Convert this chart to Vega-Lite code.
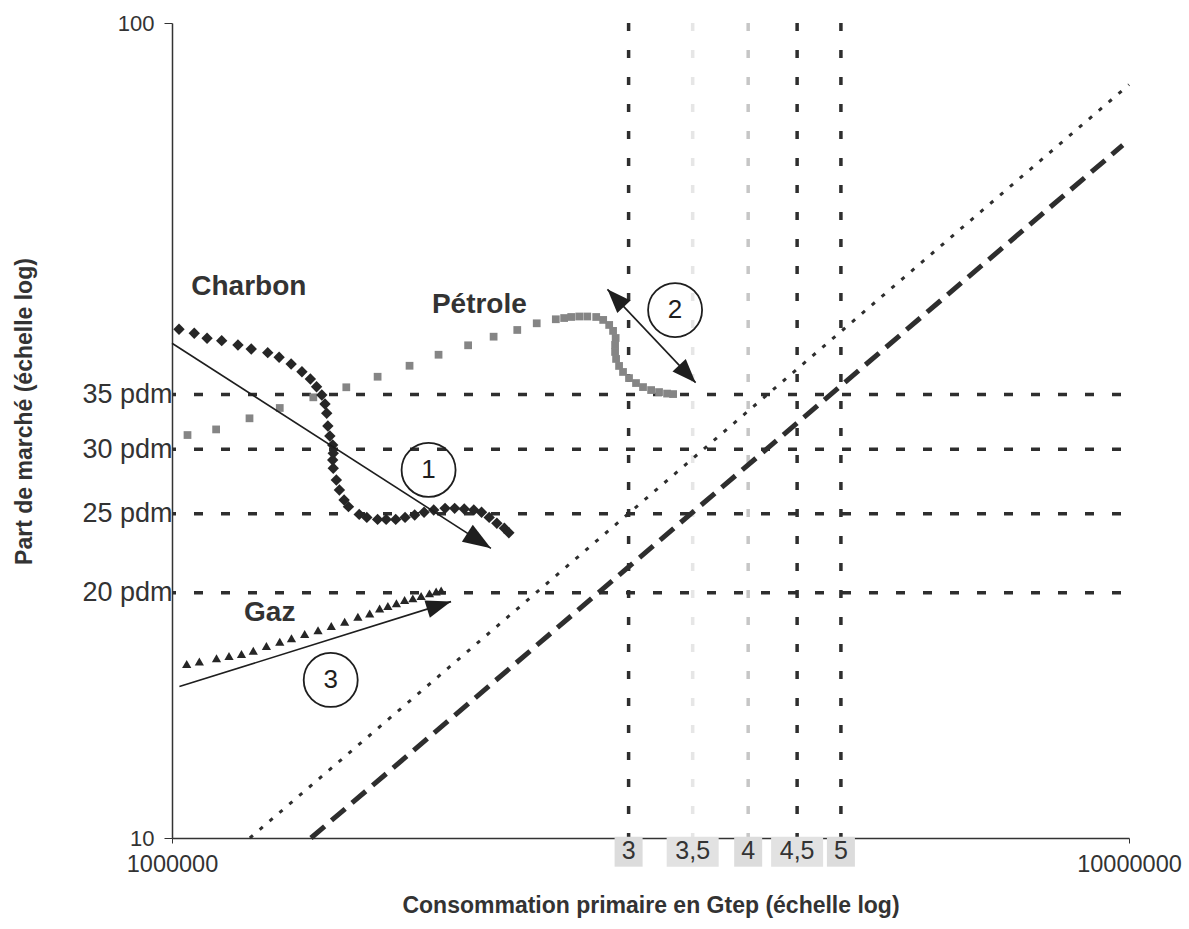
{
 "$schema": "https://vega.github.io/schema/vega-lite/v6.json",
 "width": 957,
 "height": 815,
 "autosize": {"type": "none"},
 "padding": {"left": 172, "top": 23, "right": 60, "bottom": 91},
 "background": "white",
 "config": {"view": {"stroke": null}, "font": "Liberation Sans", "axis": {"grid": false}},
 "datasets": {
  "charbon": [
   {"x":1017000,"y":42.09},{"x":1055000,"y":41.62},{"x":1088000,"y":41.03},{"x":1127000,"y":40.76},{"x":1172000,"y":40.27},{"x":1210000,"y":39.81},{"x":1259000,"y":39.40},{"x":1294000,"y":38.89},{"x":1332000,"y":38.16},{"x":1367000,"y":37.34},{"x":1395000,"y":36.58},{"x":1416000,"y":35.79},{"x":1434000,"y":34.96},{"x":1445000,"y":34.08},{"x":1451000,"y":33.20},{"x":1455000,"y":32.03},{"x":1462000,"y":31.14},{"x":1472000,"y":30.35},{"x":1474000,"y":29.65},{"x":1472000,"y":29.09},{"x":1474000,"y":28.42},{"x":1485000,"y":27.50},{"x":1496000,"y":26.73},{"x":1513000,"y":25.98},{"x":1529000,"y":25.50},{"x":1569000,"y":24.95},{"x":1598000,"y":24.74},{"x":1640000,"y":24.60},{"x":1674000,"y":24.60},{"x":1713000,"y":24.60},{"x":1752000,"y":24.74},{"x":1793000,"y":24.91},{"x":1834000,"y":25.10},{"x":1877000,"y":25.26},{"x":1929000,"y":25.38},{"x":1974000,"y":25.38},{"x":2020000,"y":25.33},{"x":2067000,"y":25.26},{"x":2106000,"y":25.10},{"x":2145000,"y":24.74},{"x":2185000,"y":24.33},{"x":2225000,"y":23.99},{"x":2249000,"y":23.69}
  ],
  "petrole": [
   {"x":1038000,"y":31.22},{"x":1112000,"y":31.72},{"x":1205000,"y":32.73},{"x":1296000,"y":33.70},{"x":1405000,"y":34.73},{"x":1521000,"y":35.73},{"x":1640000,"y":36.81},{"x":1771000,"y":37.97},{"x":1899000,"y":39.17},{"x":2039000,"y":40.23},{"x":2168000,"y":41.22},{"x":2295000,"y":42.01},{"x":2405000,"y":42.81},{"x":2518000,"y":43.30},{"x":2569000,"y":43.45},{"x":2613000,"y":43.58},{"x":2664000,"y":43.64},{"x":2716000,"y":43.64},{"x":2775000,"y":43.58},{"x":2822000,"y":43.22},{"x":2863000,"y":42.61},{"x":2890000,"y":41.90},{"x":2908000,"y":41.07},{"x":2904000,"y":40.27},{"x":2904000,"y":39.48},{"x":2911000,"y":38.71},{"x":2932000,"y":37.95},{"x":2960000,"y":37.31},{"x":3003000,"y":36.67},{"x":3054000,"y":36.16},{"x":3106000,"y":35.75},{"x":3167000,"y":35.45},{"x":3228000,"y":35.25},{"x":3291000,"y":35.10},{"x":3339000,"y":35.05}
  ],
  "gaz": [
   {"x":1036000,"y":16.35},{"x":1068000,"y":16.46},{"x":1113000,"y":16.62},{"x":1147000,"y":16.72},{"x":1182000,"y":16.82},{"x":1216000,"y":16.97},{"x":1255000,"y":17.20},{"x":1296000,"y":17.41},{"x":1333000,"y":17.58},{"x":1376000,"y":17.79},{"x":1421000,"y":17.99},{"x":1467000,"y":18.20},{"x":1515000,"y":18.42},{"x":1564000,"y":18.69},{"x":1609000,"y":18.86},{"x":1648000,"y":19.13},{"x":1681000,"y":19.26},{"x":1716000,"y":19.41},{"x":1750000,"y":19.59},{"x":1785000,"y":19.68},{"x":1821000,"y":19.81},{"x":1858000,"y":19.96},{"x":1888000,"y":20.06},{"x":1911000,"y":20.12}
  ],
  "scen": [
   {"s":"pointillé","x":1206000,"y":10,"x2":10000000,"y2":84},
   {"s":"tirets","x":1397000,"y":10,"x2":9850000,"y2":70.8}
  ],
  "pdm": [{"y":35},{"y":30},{"y":25},{"y":20}],
  "gtep": [{"v":3000000,"label":"3"},{"v":3500000,"label":"3,5"},{"v":4000000,"label":"4"},{"v":4500000,"label":"4,5"},{"v":5000000,"label":"5"}],
  "arrows": [
   {"id":1,"x":1000000,"y":40.46,"x2":2154000,"y2":22.67},
   {"id":2,"x":2851000,"y":47.12,"x2":3525000,"y2":36.20},
   {"id":3,"x":1018000,"y":15.34,"x2":1957000,"y2":19.50}
  ],
  "circles": [{"n":"1","x":1854000,"y":28.29},{"n":"2","x":3355000,"y":44.44},{"n":"3","x":1465000,"y":15.63}],
  "names": [{"name":"Charbon","x":1203000,"y":47.43},{"name":"Pétrole","x":2095000,"y":45.08},{"name":"Gaz","x":1265000,"y":18.88}]
 },
 "layer": [
  {
   "data": {"name": "gtep"},
   "transform": [{"filter": "datum.label == '3' || datum.label == '4,5' || datum.label == '5'"}],
   "mark": {"type": "rule", "color": "#2e2e2e", "strokeWidth": 3.5, "strokeDash": [8, 19]},
   "encoding": {
    "x": {"field": "v", "type": "quantitative", "scale": {"type": "log", "domain": [1000000, 10000000], "nice": false},
     "axis": {"values": [1000000, 10000000], "labelExpr": "datum.value < 2000000 ? '1000000' : '10000000'", "labelFlush": false, "labelOverlap": false, "labelBound": false,
      "labelFontSize": 23.5, "labelColor": "#333", "labelPadding": 9, "tickSize": 5, "tickColor": "#333", "domainColor": "#333", "domainWidth": 1.5,
      "title": "Consommation primaire en Gtep (échelle log)", "titleFontSize": 23, "titleFontWeight": "bold", "titleColor": "#333", "titlePadding": 19}}
   }
  },
  {
   "data": {"name": "pdm"},
   "mark": {"type": "rule", "color": "#2e2e2e", "strokeWidth": 3.5, "strokeDash": [9, 18], "strokeDashOffset": -8},
   "encoding": {
    "y": {"field": "y", "type": "quantitative", "scale": {"type": "log", "domain": [10, 100], "nice": false},
     "axis": {"values": [10, 20, 25, 30, 35, 100],
      "labelExpr": "datum.value == 100 || datum.value == 10 ? '' + datum.value : datum.value + ' pdm'",
      "labelOverlap": false, "labelBound": false, "labelColor": "#333",
      "labelFontSize": {"condition": {"test": "datum.value == 10 || datum.value == 100", "value": 22}, "value": 27},
      "labelPadding": {"condition": {"test": "datum.value == 10 || datum.value == 100", "value": 10}, "value": -8},
      "tickSize": 8,
      "tickColor": {"condition": {"test": "datum.value == 10 || datum.value == 100", "value": "#333"}, "value": "transparent"},
      "domainColor": "#333", "domainWidth": 1.5,
      "title": "Part de marché (échelle log)", "titleFontSize": 23, "titleFontWeight": "bold", "titleColor": "#333", "titleX": -136, "titleY": 388}}
   }
  },
  {
   "data": {"name": "gtep"},
   "transform": [{"filter": "datum.label == '4'"}],
   "mark": {"type": "rule", "color": "#c6c6c6", "strokeWidth": 3.5, "strokeDash": [8, 19]},
   "encoding": {"x": {"field": "v", "type": "quantitative", "scale": {"type": "log", "domain": [1000000, 10000000], "nice": false}}}
  },
  {
   "data": {"name": "gtep"},
   "transform": [{"filter": "datum.label == '3,5'"}],
   "mark": {"type": "rule", "color": "#e6e6e6", "strokeWidth": 3.5, "strokeDash": [8, 19]},
   "encoding": {"x": {"field": "v", "type": "quantitative", "scale": {"type": "log", "domain": [1000000, 10000000], "nice": false}}}
  },
  {
   "mark": {"type": "rule", "color": "#444", "strokeWidth": 1.5},
   "encoding": {"y": {"datum": 100, "type": "quantitative", "scale": {"type": "log", "domain": [10, 100], "nice": false}}}
  },
  {
   "mark": {"type": "rule", "color": "#777", "strokeWidth": 1, "strokeDash": [1, 2]},
   "encoding": {"x": {"datum": 10000000, "type": "quantitative", "scale": {"type": "log", "domain": [1000000, 10000000], "nice": false}}}
  },
  {
   "data": {"name": "scen"},
   "transform": [{"filter": "datum.s == 'pointillé'"}],
   "mark": {"type": "rule", "color": "#2e2e2e", "strokeWidth": 3, "strokeDash": [4, 9]},
   "encoding": {
    "x": {"field": "x", "type": "quantitative", "scale": {"type": "log", "domain": [1000000, 10000000], "nice": false}},
    "y": {"field": "y", "type": "quantitative", "scale": {"type": "log", "domain": [10, 100], "nice": false}},
    "x2": {"field": "x2"}, "y2": {"field": "y2"}
   }
  },
  {
   "data": {"name": "scen"},
   "transform": [{"filter": "datum.s == 'tirets'"}],
   "mark": {"type": "rule", "color": "#2e2e2e", "strokeWidth": 5, "strokeDash": [18, 9]},
   "encoding": {
    "x": {"field": "x", "type": "quantitative", "scale": {"type": "log", "domain": [1000000, 10000000], "nice": false}},
    "y": {"field": "y", "type": "quantitative", "scale": {"type": "log", "domain": [10, 100], "nice": false}},
    "x2": {"field": "x2"}, "y2": {"field": "y2"}
   }
  },
  {
   "data": {"name": "petrole"},
   "mark": {"type": "point", "shape": "square", "filled": true, "color": "#858585", "size": 60, "opacity": 1},
   "encoding": {
    "x": {"field": "x", "type": "quantitative", "scale": {"type": "log", "domain": [1000000, 10000000], "nice": false}},
    "y": {"field": "y", "type": "quantitative", "scale": {"type": "log", "domain": [10, 100], "nice": false}}
   }
  },
  {
   "data": {"name": "charbon"},
   "mark": {"type": "point", "shape": "diamond", "filled": true, "color": "#262626", "size": 130, "opacity": 1},
   "encoding": {
    "x": {"field": "x", "type": "quantitative", "scale": {"type": "log", "domain": [1000000, 10000000], "nice": false}},
    "y": {"field": "y", "type": "quantitative", "scale": {"type": "log", "domain": [10, 100], "nice": false}}
   }
  },
  {
   "data": {"name": "gaz"},
   "mark": {"type": "point", "shape": "triangle-up", "filled": true, "color": "#262626", "size": 85, "opacity": 1},
   "encoding": {
    "x": {"field": "x", "type": "quantitative", "scale": {"type": "log", "domain": [1000000, 10000000], "nice": false}},
    "y": {"field": "y", "type": "quantitative", "scale": {"type": "log", "domain": [10, 100], "nice": false}}
   }
  },
  {
   "data": {"name": "arrows"},
   "mark": {"type": "rule", "color": "#1e1e1e", "strokeWidth": 1.6},
   "encoding": {
    "x": {"field": "x", "type": "quantitative", "scale": {"type": "log", "domain": [1000000, 10000000], "nice": false}},
    "y": {"field": "y", "type": "quantitative", "scale": {"type": "log", "domain": [10, 100], "nice": false}},
    "x2": {"field": "x2"}, "y2": {"field": "y2"}
   }
  },
  {
   "data": {"name": "arrows"},
   "transform": [{"filter": "datum.id == 1"}],
   "mark": {"type": "point", "shape": "M0,0 L-1,-0.36 L-1,0.36 Z", "filled": true, "color": "#1e1e1e", "size": 3136, "angle": 32.6, "opacity": 1},
   "encoding": {
    "x": {"field": "x2", "type": "quantitative", "scale": {"type": "log", "domain": [1000000, 10000000], "nice": false}},
    "y": {"field": "y2", "type": "quantitative", "scale": {"type": "log", "domain": [10, 100], "nice": false}}
   }
  },
  {
   "data": {"name": "arrows"},
   "transform": [{"filter": "datum.id == 2"}],
   "mark": {"type": "point", "shape": "M0,0 L-1,-0.38 L-1,0.38 Z", "filled": true, "color": "#1e1e1e", "size": 2304, "angle": 46.6, "opacity": 1},
   "encoding": {
    "x": {"field": "x2", "type": "quantitative", "scale": {"type": "log", "domain": [1000000, 10000000], "nice": false}},
    "y": {"field": "y2", "type": "quantitative", "scale": {"type": "log", "domain": [10, 100], "nice": false}}
   }
  },
  {
   "data": {"name": "arrows"},
   "transform": [{"filter": "datum.id == 2"}],
   "mark": {"type": "point", "shape": "M0,0 L-1,-0.38 L-1,0.38 Z", "filled": true, "color": "#1e1e1e", "size": 2304, "angle": 226.6, "opacity": 1},
   "encoding": {
    "x": {"field": "x", "type": "quantitative", "scale": {"type": "log", "domain": [1000000, 10000000], "nice": false}},
    "y": {"field": "y", "type": "quantitative", "scale": {"type": "log", "domain": [10, 100], "nice": false}}
   }
  },
  {
   "data": {"name": "arrows"},
   "transform": [{"filter": "datum.id == 3"}],
   "mark": {"type": "point", "shape": "M0,0 L-1,-0.36 L-1,0.36 Z", "filled": true, "color": "#1e1e1e", "size": 2500, "angle": -17.3, "opacity": 1},
   "encoding": {
    "x": {"field": "x2", "type": "quantitative", "scale": {"type": "log", "domain": [1000000, 10000000], "nice": false}},
    "y": {"field": "y2", "type": "quantitative", "scale": {"type": "log", "domain": [10, 100], "nice": false}}
   }
  },
  {
   "data": {"name": "circles"},
   "mark": {"type": "point", "shape": "circle", "filled": false, "color": "#1e1e1e", "strokeWidth": 1.8, "size": 2916, "opacity": 1},
   "encoding": {
    "x": {"field": "x", "type": "quantitative", "scale": {"type": "log", "domain": [1000000, 10000000], "nice": false}},
    "y": {"field": "y", "type": "quantitative", "scale": {"type": "log", "domain": [10, 100], "nice": false}}
   }
  },
  {
   "data": {"name": "circles"},
   "mark": {"type": "text", "font": "Liberation Sans", "fontSize": 26, "color": "#1e1e1e", "align": "center", "baseline": "middle"},
   "encoding": {
    "x": {"field": "x", "type": "quantitative", "scale": {"type": "log", "domain": [1000000, 10000000], "nice": false}},
    "y": {"field": "y", "type": "quantitative", "scale": {"type": "log", "domain": [10, 100], "nice": false}},
    "text": {"field": "n"}
   }
  },
  {
   "data": {"name": "names"},
   "mark": {"type": "text", "font": "Liberation Sans", "fontSize": 28, "fontWeight": "bold", "color": "#333", "align": "center", "baseline": "middle"},
   "encoding": {
    "x": {"field": "x", "type": "quantitative", "scale": {"type": "log", "domain": [1000000, 10000000], "nice": false}},
    "y": {"field": "y", "type": "quantitative", "scale": {"type": "log", "domain": [10, 100], "nice": false}},
    "text": {"field": "name"}
   }
  },
  {
   "data": {"name": "gtep"},
   "transform": [{"filter": "length(datum.label) == 1"}],
   "mark": {"type": "point", "shape": "M-1,-1.07 L1,-1.07 L1,1.07 L-1,1.07 Z", "filled": true, "color": "#dcdcdc", "size": 784, "opacity": 1},
   "encoding": {
    "x": {"field": "v", "type": "quantitative", "scale": {"type": "log", "domain": [1000000, 10000000], "nice": false}},
    "y": {"datum": 9.62, "type": "quantitative", "scale": {"type": "log", "domain": [10, 100], "nice": false}}
   }
  },
  {
   "data": {"name": "gtep"},
   "transform": [{"filter": "length(datum.label) > 1"}],
   "mark": {"type": "point", "shape": "M-1,-0.577 L1,-0.577 L1,0.577 L-1,0.577 Z", "filled": true, "color": "#e2e2e2", "size": 2704, "opacity": 1},
   "encoding": {
    "x": {"field": "v", "type": "quantitative", "scale": {"type": "log", "domain": [1000000, 10000000], "nice": false}},
    "y": {"datum": 9.62, "type": "quantitative", "scale": {"type": "log", "domain": [10, 100], "nice": false}}
   }
  },
  {
   "data": {"name": "gtep"},
   "mark": {"type": "text", "font": "Liberation Sans", "fontSize": 25, "color": "#333", "align": "center", "baseline": "middle"},
   "encoding": {
    "x": {"field": "v", "type": "quantitative", "scale": {"type": "log", "domain": [1000000, 10000000], "nice": false}},
    "y": {"datum": 9.64, "type": "quantitative", "scale": {"type": "log", "domain": [10, 100], "nice": false}},
    "text": {"field": "label"}
   }
  }
 ]
}
